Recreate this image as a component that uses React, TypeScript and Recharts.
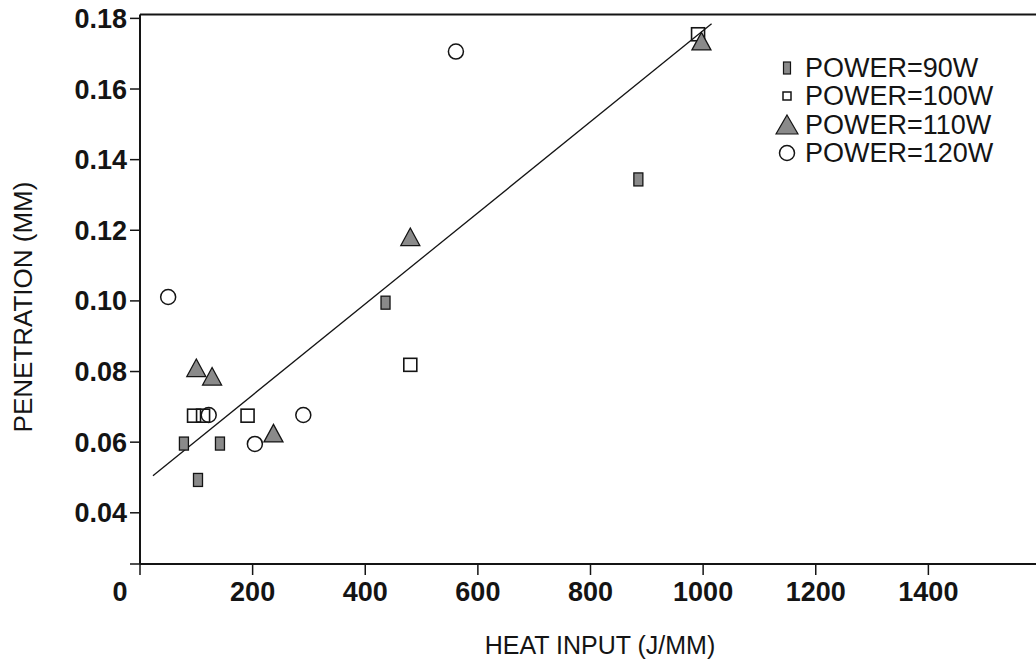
import { ScatterChart, Scatter, XAxis, YAxis, ReferenceLine, Legend } from 'recharts';

// axis settings
const heatDomain = [0, 1600];
const heatTicks = [0, 200, 400, 600, 800, 1000, 1200, 1400];
const penDomain = [0.0255, 0.1811];
const penTicks = [0.0255, 0.04, 0.06, 0.08, 0.1, 0.12, 0.14, 0.16, 0.18];

// POWER=90W
const p90Heat = [78, 103, 142, 436, 885];
const p90Pen = [0.0596, 0.0493, 0.0596, 0.0995, 0.1344];
// POWER=100W
const p100Heat = [96, 112, 191, 480, 991];
const p100Pen = [0.0675, 0.0675, 0.0675, 0.0819, 0.1755];
// POWER=110W
const p110Heat = [100, 128, 237, 480, 997];
const p110Pen = [0.0807, 0.0783, 0.0622, 0.1178, 0.1732];
// POWER=120W
const p120Heat = [50, 122, 204, 290, 561];
const p120Pen = [0.1011, 0.0677, 0.0595, 0.0677, 0.1706];

// fitted line end points
const fitHeat = [23, 1015];
const fitPen = [0.0505, 0.1785];

const seriesNames = ['POWER=90W', 'POWER=100W', 'POWER=110W', 'POWER=120W'];

const zip = (xs: number[], ys: number[]) => xs.map((heat, i) => ({ heat, pen: ys[i] }));

const INK = '#141414';
const GREY = '#8a8a8a';
const FONT = '"Liberation Sans", Arial, sans-serif';

const RectMark = ({ cx, cy }: any) => (
  <rect x={cx - 4.5} y={cy - 6.5} width={9} height={13} fill={GREY} stroke={INK} strokeWidth={1.3} />
);
const SquareMark = ({ cx, cy }: any) => (
  <rect x={cx - 6.5} y={cy - 6.5} width={13} height={13} fill="none" stroke={INK} strokeWidth={1.6} />
);
const TriMark = ({ cx, cy }: any) => (
  <polygon
    points={`${cx},${cy - 10} ${cx + 9.5},${cy + 7.5} ${cx - 9.5},${cy + 7.5}`}
    fill={GREY}
    stroke={INK}
    strokeWidth={1.3}
  />
);
const CircleMark = ({ cx, cy }: any) => (
  <circle cx={cx} cy={cy} r={7.5} fill="none" stroke={INK} strokeWidth={1.5} />
);

const XTick = ({ x, y, payload }: any) => (
  <text
    x={x + (payload.value === 0 ? -20 : 0)}
    y={y}
    dy={24}
    textAnchor="middle"
    fill={INK}
    style={{ fontFamily: FONT, fontWeight: 'bold', fontSize: 27 }}
  >
    {payload.value}
  </text>
);

const YTick = ({ x, y, payload }: any) =>
  payload.value < 0.03 ? null : (
    <text
      x={x - 1}
      y={y}
      dy={9.5}
      textAnchor="end"
      fill={INK}
      style={{ fontFamily: FONT, fontWeight: 'bold', fontSize: 27 }}
    >
      {payload.value.toFixed(2)}
    </text>
  );

const XLabel = () => (
  <text x={600} y={645} textAnchor="middle" dominantBaseline="central" fill={INK}
    style={{ fontFamily: FONT, fontSize: 25 }}>
    HEAT INPUT (J/MM)
  </text>
);

const YLabel = () => (
  <text x={23} y={307} transform="rotate(-90 23 307)" textAnchor="middle" dominantBaseline="central" fill={INK}
    style={{ fontFamily: FONT, fontSize: 26 }}>
    PENETRATION (MM)
  </text>
);

const legendMarks = [
  <rect x={8.5} y={6} width={7} height={12} fill={GREY} stroke={INK} strokeWidth={1.2} />,
  <rect x={8} y={8} width={8} height={8} fill="none" stroke={INK} strokeWidth={1.5} />,
  <polygon points="12,2 23,21 1,21" fill={GREY} stroke={INK} strokeWidth={1.2} />,
  <circle cx={12} cy={12} r={7.5} fill="none" stroke={INK} strokeWidth={1.5} />,
];

const PowerLegend = () => (
  <div style={{ fontFamily: FONT, fontSize: 27, color: INK }}>
    {seriesNames.map((name, i) => (
      <div key={name} style={{ display: 'flex', alignItems: 'center', height: 28.3 }}>
        <svg width={24} height={24}>{legendMarks[i]}</svg>
        <span style={{ marginLeft: 6, lineHeight: '28px' }}>{name}</span>
      </div>
    ))}
  </div>
);

export default function App() {
  return (
    <div style={{ width: 1036, height: 668, overflow: 'hidden', position: 'relative' }}>
      <style>{'body { margin: 0; overflow: hidden; }'}</style>
      <ScatterChart width={1041} height={668} margin={{ top: 14.5, right: 0, bottom: 0, left: 0 }}>
        <XAxis
          type="number"
          dataKey="heat"
          domain={heatDomain}
          ticks={heatTicks}
          allowDataOverflow
          height={104}
          tickSize={11}
          tickLine={{ stroke: INK, strokeWidth: 1.5 }}
          axisLine={{ stroke: INK, strokeWidth: 2 }}
          tick={<XTick />}
          label={<XLabel />}
        />
        <YAxis
          type="number"
          dataKey="pen"
          domain={penDomain}
          ticks={penTicks}
          allowDataOverflow
          width={140}
          tickSize={10}
          tickLine={{ stroke: INK, strokeWidth: 1.5 }}
          axisLine={{ stroke: INK, strokeWidth: 2 }}
          tick={<YTick />}
          label={<YLabel />}
        />
        <ReferenceLine y={penDomain[1]} stroke={INK} strokeWidth={2} />
        <ReferenceLine
          segment={[
            { x: fitHeat[0], y: fitPen[0] },
            { x: fitHeat[1], y: fitPen[1] },
          ]}
          stroke={INK}
          strokeWidth={1.3}
          ifOverflow="visible"
        />
        <Scatter name={seriesNames[0]} data={zip(p90Heat, p90Pen)} shape={<RectMark />} isAnimationActive={false} />
        <Scatter name={seriesNames[1]} data={zip(p100Heat, p100Pen)} shape={<SquareMark />} isAnimationActive={false} />
        <Scatter name={seriesNames[2]} data={zip(p110Heat, p110Pen)} shape={<TriMark />} isAnimationActive={false} />
        <Scatter name={seriesNames[3]} data={zip(p120Heat, p120Pen)} shape={<CircleMark />} isAnimationActive={false} />
        <Legend
          layout="vertical"
          align="center"
          verticalAlign="middle"
          content={<PowerLegend />}
          wrapperStyle={{ left: 775, top: 54, width: 260, height: 'auto' }}
        />
      </ScatterChart>
    </div>
  );
}
